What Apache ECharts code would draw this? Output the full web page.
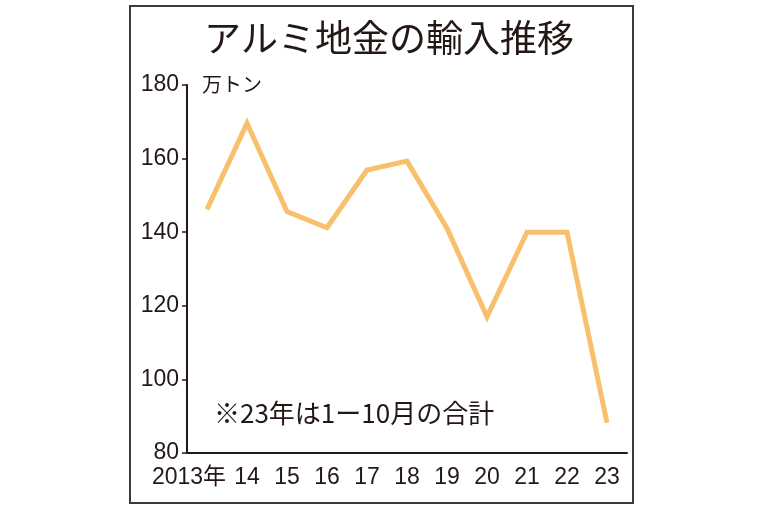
<!DOCTYPE html>
<html>
<head>
<meta charset="utf-8">
<script src="https://cdn.jsdelivr.net/npm/echarts@6/dist/echarts.min.js"></script>
<style>
  html, body { margin: 0; padding: 0; background: #fff; }
  #chart { width: 768px; height: 512px; }
</style>
</head>
<body>
<div id="chart"></div>
<script>
// 年（カテゴリ）
var years = ['2013年', '14', '15', '16', '17', '18', '19', '20', '21', '22', '23'];
// 輸入量（万トン）
var imports = [146.2, 169.6, 145.6, 141.2, 156.9, 159.3, 141.1, 117.0, 140.0, 140.0, 88.2];
// 縦軸
var yMin = 80, yMax = 180, yStep = 20;

var numFont = '"Liberation Sans", "Noto Sans CJK JP", sans-serif';
var jpFont = '"Noto Sans CJK JP", sans-serif';

var myChart = echarts.init(document.getElementById('chart'));
var option = {
    backgroundColor: '#fff',
    animation: false,
    title: {
        text: 'アルミ地金の輸入推移',
        left: 384,
        top: 14,
        textAlign: 'center',
        textStyle: { fontFamily: jpFont, fontSize: 37, fontWeight: 'normal', color: '#231815' }
    },
    grid: { left: 187, right: 141, top: 85, bottom: 59 },
    xAxis: {
        type: 'category',
        data: years,
        boundaryGap: true,
        axisLine: { lineStyle: { color: '#231815', width: 2 } },
        axisTick: { inside: true, alignWithLabel: true, length: 5, lineStyle: { color: '#231815', width: 1.5 } },
        axisLabel: {
            interval: 0,
            margin: 13,
            fontFamily: numFont,
            fontSize: 23,
            color: '#231815',
            // 最初のラベルだけ左へずらす
            formatter: function (v, i) { return i === 0 ? '{first|' + v + '}' : v; },
            rich: {
                first: { fontFamily: numFont, fontSize: 23, color: '#231815', padding: [0, 36, 0, 0] }
            }
        }
    },
    yAxis: {
        type: 'value',
        min: yMin,
        max: yMax,
        interval: yStep,
        axisLine: { show: true, lineStyle: { color: '#231815', width: 2 } },
        axisTick: { show: true, length: 5, lineStyle: { color: '#231815', width: 1.5 } },
        splitLine: { show: false },
        axisLabel: { margin: 8, fontFamily: numFont, fontSize: 23, color: '#231815' }
    },
    series: [{
        type: 'line',
        data: imports,
        showSymbol: false,
        lineStyle: { color: '#F8BF6C', width: 5, join: 'miter' }
    }],
    graphic: [
        {
            type: 'rect',
            shape: { x: 130, y: 6, width: 503, height: 497 },
            style: { fill: 'none', stroke: '#3a3a3a', lineWidth: 2 }
        },
        {
            type: 'text',
            left: 202, top: 74,
            style: { text: '万トン', font: '20px "Noto Sans CJK JP"', fill: '#231815' }
        },
        {
            type: 'text',
            left: 214, top: 400,
            style: { text: '※23年は1ー10月の合計', font: '26px "Noto Sans CJK JP"', fill: '#231815' }
        }
    ]
};
myChart.setOption(option);
</script>
</body>
</html>
